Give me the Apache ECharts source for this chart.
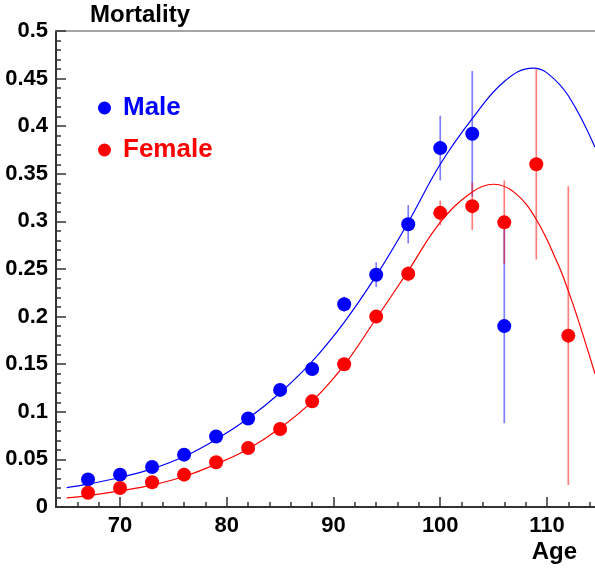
<!DOCTYPE html>
<html>
<head>
<meta charset="utf-8">
<script src="https://cdn.jsdelivr.net/npm/echarts@6/dist/echarts.min.js"></script>
<style>
  html, body { margin: 0; padding: 0; background: #fff; }
  #chart { width: 595px; height: 569px; }
</style>
</head>
<body>
<div id="chart"></div>
<script>
// data
var maleAges = [67, 70, 73, 76, 79, 82, 85, 88, 91, 94, 97, 100, 103, 106];
var maleRate = [0.029, 0.034, 0.042, 0.055, 0.074, 0.093, 0.123, 0.145, 0.213, 0.244, 0.297, 0.377, 0.392, 0.190];
var maleErr  = [0.002, 0.002, 0.002, 0.003, 0.003, 0.004, 0.005, 0.006, 0.008, 0.013, 0.020, 0.034, 0.066, 0.102];

var femaleAges = [67, 70, 73, 76, 79, 82, 85, 88, 91, 94, 97, 100, 103, 106, 109, 112];
var femaleRate = [0.015, 0.020, 0.026, 0.034, 0.047, 0.062, 0.082, 0.111, 0.150, 0.200, 0.245, 0.309, 0.316, 0.299, 0.360, 0.180];
var femaleErr  = [0.001, 0.001, 0.001, 0.002, 0.002, 0.003, 0.004, 0.005, 0.006, 0.007, 0.008, 0.013, 0.025, 0.044, 0.100, 0.157];

// fit curves
var maleFitAges = [65, 67, 70, 73, 76, 79, 82, 85, 88, 91, 94, 97, 100, 103, 106, 108.7, 110, 112, 114.5];
var maleFit     = [0.0204, 0.024, 0.031, 0.040, 0.053, 0.071, 0.093, 0.120, 0.153, 0.194, 0.243, 0.299, 0.360, 0.408, 0.447, 0.461, 0.456, 0.432, 0.378];
var femaleFitAges = [65, 67, 70, 73, 76, 79, 82, 85, 88, 91, 94, 97, 100, 103, 105, 107, 109, 111, 112, 113, 114.5];
var femaleFit     = [0.0095, 0.012, 0.017, 0.023, 0.032, 0.045, 0.061, 0.083, 0.111, 0.149, 0.198, 0.248, 0.299, 0.331, 0.339, 0.330, 0.302, 0.256, 0.227, 0.194, 0.140];

var xMajor = [70, 80, 90, 100, 110];
var xMinor = [66, 68, 72, 74, 76, 78, 82, 84, 86, 88, 92, 94, 96, 98, 102, 104, 106, 108, 112, 114];

var FONT = '"Liberation Sans", Arial, Helvetica, sans-serif';
var BLUE = '#0000ff', RED = '#ff0000';
var AXIS = '#333';

function pairs(xs, ys) {
    var out = [];
    for (var i = 0; i < xs.length; i++) out.push([xs[i], ys[i]]);
    return out;
}
function errs(xs, ys, es) {
    var out = [];
    for (var i = 0; i < xs.length; i++) out.push([xs[i], ys[i] - es[i], ys[i] + es[i]]);
    return out;
}
function errRender(color) {
    return function(params, api) {
        var x = api.value(0);
        var p1 = api.coord([x, api.value(1)]);
        var p2 = api.coord([x, api.value(2)]);
        return {
            type: 'line',
            shape: { x1: p1[0], y1: p1[1], x2: p2[0], y2: p2[1] },
            style: { stroke: color, lineWidth: 1.7 }
        };
    };
}

var myChart = echarts.init(document.getElementById('chart'));
var option = {
    animation: false,
    title: [
        { text: 'Mortality', left: 90, top: 3, padding: 0,
          textStyle: { fontFamily: FONT, fontSize: 24, fontWeight: 'bold', color: '#000' } },
        { text: 'Age', right: 18, top: 540, padding: 0,
          textStyle: { fontFamily: FONT, fontSize: 24, fontWeight: 'bold', color: '#000' } }
    ],
    legend: {
        orient: 'vertical',
        left: 93,
        top: 90,
        itemWidth: 27,
        itemHeight: 13,
        itemGap: 16,
        icon: 'circle',
        textStyle: { fontFamily: FONT, fontSize: 26, fontWeight: 'bold' },
        data: [
            { name: 'Male', textStyle: { color: BLUE } },
            { name: 'Female', textStyle: { color: RED } }
        ]
    },
    grid: { left: 56, right: 0, top: 31, bottom: 62 },
    xAxis: [
        {
            type: 'value', min: 64, max: 114.5, position: 'bottom',
            axisLine: { show: true, lineStyle: { color: AXIS, width: 2 } },
            axisTick: { show: true, inside: true, length: 10, customValues: xMajor,
                        lineStyle: { color: AXIS, width: 1.5 } },
            axisLabel: { customValues: xMajor, margin: 8, color: '#000',
                         fontFamily: FONT, fontSize: 22, fontWeight: 'bold' },
            splitLine: { show: false }
        },
        {
            type: 'value', min: 64, max: 114.5, position: 'bottom',
            axisLine: { show: false },
            axisTick: { show: true, inside: true, length: 5, customValues: xMinor,
                        lineStyle: { color: AXIS, width: 1.5 } },
            axisLabel: { show: false },
            splitLine: { show: false }
        },
        {
            type: 'value', min: 64, max: 114.5, position: 'top',
            axisLine: { show: true, lineStyle: { color: '#888', width: 1.5 } },
            axisTick: { show: false },
            axisLabel: { show: false },
            splitLine: { show: false }
        }
    ],
    yAxis: {
        type: 'value', min: 0, max: 0.5, interval: 0.05,
        axisLine: { show: true, lineStyle: { color: AXIS, width: 2 } },
        axisTick: { show: true, inside: true, length: 10, lineStyle: { color: AXIS, width: 1.5 } },
        minorTick: { show: true, splitNumber: 5, length: 5, lineStyle: { color: AXIS, width: 1.5 } },
        axisLabel: { margin: 8, color: '#000', fontFamily: FONT, fontSize: 22, fontWeight: 'bold' },
        splitLine: { show: false },
        minorSplitLine: { show: false }
    },
    series: [
        { name: 'maleFit', type: 'line', smooth: 0.4, showSymbol: false, silent: true,
          lineStyle: { color: BLUE, width: 1.2 }, data: pairs(maleFitAges, maleFit) },
        { name: 'femaleFit', type: 'line', smooth: 0.4, showSymbol: false, silent: true,
          lineStyle: { color: RED, width: 1.2 }, data: pairs(femaleFitAges, femaleFit) },
        { name: 'maleErr', type: 'custom', renderItem: errRender('rgba(0,0,255,0.5)'),
          encode: { x: 0, y: [1, 2] }, data: errs(maleAges, maleRate, maleErr), z: 3 },
        { name: 'femaleErr', type: 'custom', renderItem: errRender('rgba(255,0,0,0.5)'),
          encode: { x: 0, y: [1, 2] }, data: errs(femaleAges, femaleRate, femaleErr), z: 3 },
        { name: 'Male', type: 'scatter', symbol: 'circle', symbolSize: 14, z: 4,
          itemStyle: { color: BLUE, opacity: 1 }, data: pairs(maleAges, maleRate) },
        { name: 'Female', type: 'scatter', symbol: 'circle', symbolSize: 14, z: 4,
          itemStyle: { color: RED, opacity: 1 }, data: pairs(femaleAges, femaleRate) }
    ]
};
myChart.setOption(option);
</script>
</body>
</html>
